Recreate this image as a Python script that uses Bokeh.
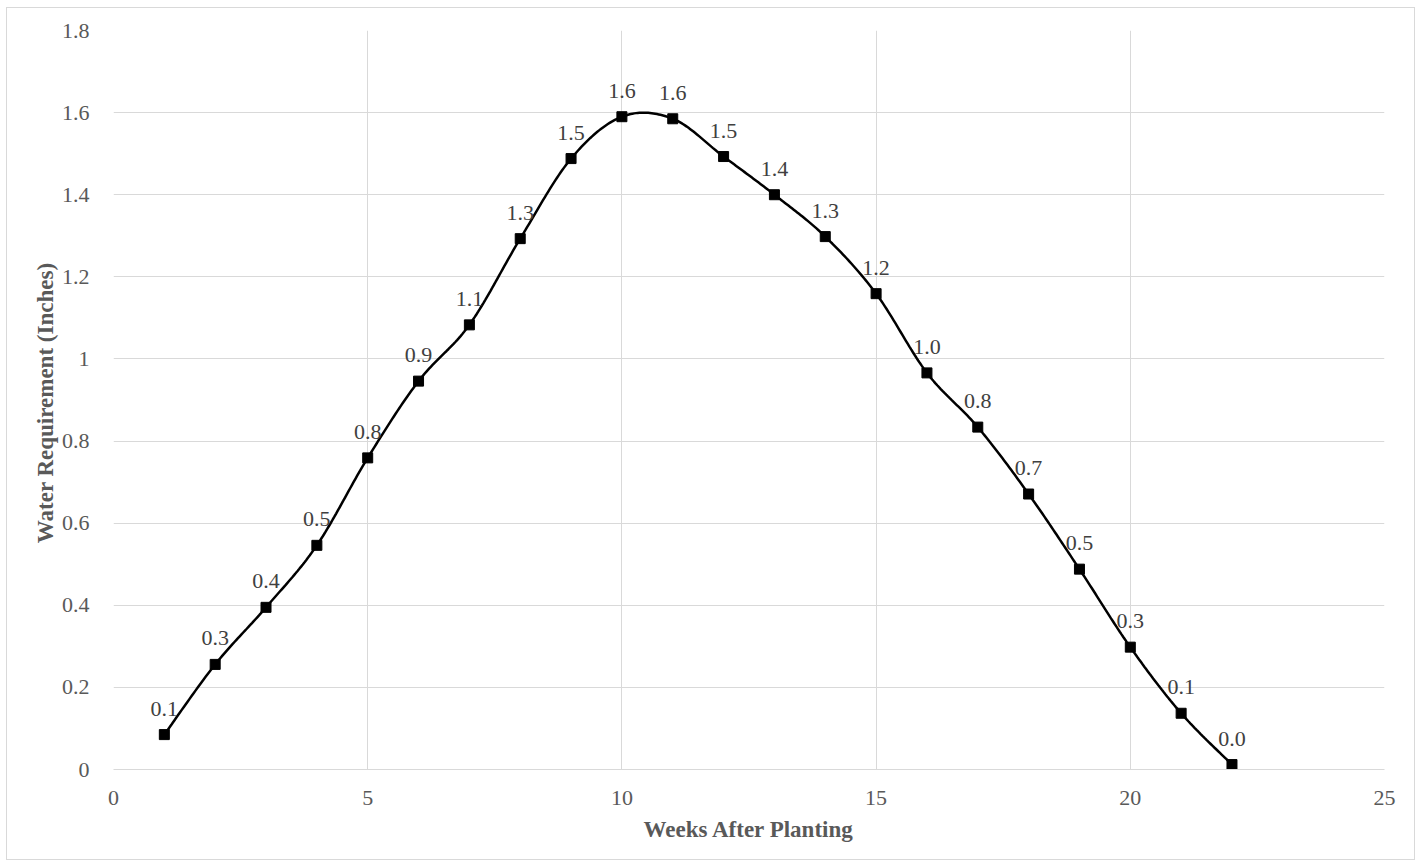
import numpy as np
from bokeh.plotting import figure
from bokeh.models import ColumnDataSource, FixedTicker, Range1d, LabelSet
from bokeh.embed import file_html
from bokeh.resources import INLINE

weeks = list(range(1, 23))
water = [0.085, 0.256, 0.395, 0.546, 0.759, 0.946, 1.083, 1.293, 1.488, 1.590, 1.585,
         1.493, 1.400, 1.298, 1.159, 0.966, 0.834, 0.671, 0.488, 0.298, 0.137, 0.012]
labels = ["0.1", "0.3", "0.4", "0.5", "0.8", "0.9", "1.1", "1.3", "1.5", "1.6", "1.6",
          "1.5", "1.4", "1.3", "1.2", "1.0", "0.8", "0.7", "0.5", "0.3", "0.1", "0.0"]
x_ticks = [0, 5, 10, 15, 20, 25]
y_ticks = [0, 0.2, 0.4, 0.6, 0.8, 1.0, 1.2, 1.4, 1.6, 1.8]
y_tick_labels = ["0", "0.2", "0.4", "0.6", "0.8", "1", "1.2", "1.4", "1.6", "1.8"]

# Excel-style smoothed line (Catmull-Rom Bezier through the data points)
def smooth(xs, ys, n=30):
    xs = np.asarray(xs, float); ys = np.asarray(ys, float)
    px = np.concatenate([[xs[0]], xs, [xs[-1]]])
    py = np.concatenate([[ys[0]], ys, [ys[-1]]])
    ox, oy = [], []
    t = np.linspace(0, 1, n)
    for i in range(1, len(px) - 2):
        p0 = np.array([px[i], py[i]]); p3 = np.array([px[i + 1], py[i + 1]])
        c1 = p0 + (np.array([px[i + 1], py[i + 1]]) - np.array([px[i - 1], py[i - 1]])) / 6
        c2 = p3 - (np.array([px[i + 2], py[i + 2]]) - np.array([px[i], py[i]])) / 6
        for tt in t:
            b = ((1 - tt) ** 3) * p0 + 3 * ((1 - tt) ** 2) * tt * c1 + 3 * (1 - tt) * tt ** 2 * c2 + tt ** 3 * p3
            ox.append(b[0]); oy.append(b[1])
    return ox, oy

sx, sy = smooth(weeks, water)

FONT = "Liberation Serif"
GREY = "#595959"

p = figure(width=1409, height=853, output_backend="svg", toolbar_location=None,
           x_range=Range1d(0, 25), y_range=Range1d(0, 1.8),
           min_border_left=106, min_border_right=32, min_border_top=22, min_border_bottom=92)
p.margin = (7, 0, 0, 6)
p.styles = {"border": "1px solid #d9d9d9"}
p.outline_line_color = None
p.background_fill_color = "white"

p.xaxis.ticker = FixedTicker(ticks=x_ticks)
p.yaxis.ticker = FixedTicker(ticks=y_ticks)
p.yaxis.major_label_overrides = {t: l for t, l in zip(y_ticks, y_tick_labels)}
p.xgrid.ticker = FixedTicker(ticks=x_ticks)
p.ygrid.ticker = FixedTicker(ticks=y_ticks)
for g in (p.xgrid, p.ygrid):
    g.grid_line_color = "#d9d9d9"
    g.grid_line_width = 1

for ax in (p.xaxis, p.yaxis):
    ax.major_tick_line_color = None
    ax.minor_tick_line_color = None
    ax.major_label_text_font = FONT
    ax.major_label_text_font_size = "22px"
    ax.major_label_text_color = GREY
    ax.axis_label_text_font = FONT
    ax.axis_label_text_font_size = "23px"
    ax.axis_label_text_font_style = "bold"
    ax.axis_label_text_color = GREY
p.xaxis.axis_line_color = "#d9d9d9"
p.yaxis.axis_line_color = None
p.xaxis.major_label_standoff = 15
p.yaxis.major_label_standoff = 18
p.xaxis.axis_label = "Weeks After Planting"
p.yaxis.axis_label = "Water Requirement  (Inches)"
p.xaxis.axis_label_standoff = 9
p.yaxis.axis_label_standoff = 1

p.line(sx, sy, line_color="black", line_width=2.5)
src = ColumnDataSource(dict(x=weeks, y=water, lab=labels))
p.scatter("x", "y", source=src, marker="square", size=10, fill_color="black", line_color="black")
p.add_layout(LabelSet(x="x", y="y", text="lab", source=src, y_offset=26, text_align="center",
                      text_baseline="middle", text_font=FONT, text_font_size="22px",
                      text_color="#404040"))

open("out.html", "w").write(file_html(p, INLINE))
